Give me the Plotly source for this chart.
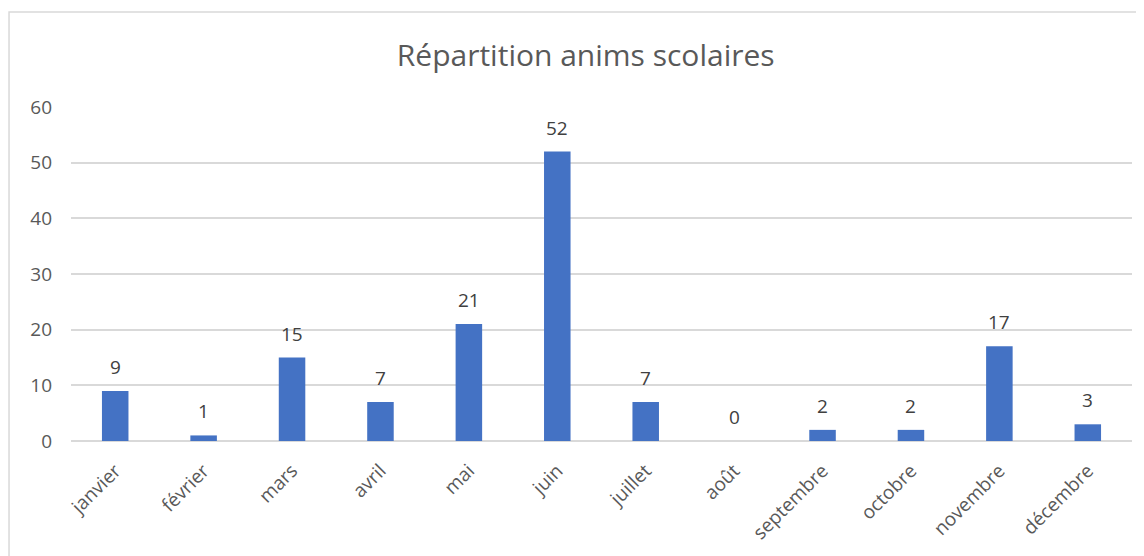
import plotly.graph_objects as go

mois = ["janvier", "février", "mars", "avril", "mai", "juin",
        "juillet", "août", "septembre", "octobre", "novembre", "décembre"]
anims = [9, 1, 15, 7, 21, 52, 7, 0, 2, 2, 17, 3]
y_ticks = [0, 10, 20, 30, 40, 50, 60]

bar_color = "#4472C4"
grey_txt = "#595959"

fig = go.Figure(go.Bar(
    x=mois, y=anims,
    marker=dict(color=bar_color, line=dict(width=0)),
))

# data labels above each bar
for m, v in zip(mois, anims):
    fig.add_annotation(x=m, y=v, text=str(v), showarrow=False,
                       yanchor="bottom", yshift=9,
                       font=dict(size=19, color="#404040"))

# page body has an 8px margin, so margins are shifted to compensate
fig.update_layout(
    width=1144, height=556,
    margin=dict(l=63, r=20, t=99, b=123),
    paper_bgcolor="white", plot_bgcolor="white",
    font=dict(family="Open Sans", color=grey_txt),
    title=dict(text="Répartition anims scolaires", x=0.505, xanchor="center",
               y=0.915, yanchor="middle",
               font=dict(size=30, color=grey_txt)),
    bargap=0.7,
    showlegend=False,
)
fig.update_xaxes(tickangle=-45, tickfont=dict(size=19, color=grey_txt),
                 showgrid=False, showline=False, ticks="", ticklabelstandoff=14)
fig.update_yaxes(range=[0, 60], tickvals=y_ticks, tickfont=dict(size=19, color=grey_txt),
                 gridcolor="#D9D9D9", gridwidth=1.5, zeroline=True, zerolinecolor="#D9D9D9",
                 zerolinewidth=1.5, ticks="", ticklabelstandoff=18)

# chart frame
fig.add_shape(type="rect", xref="paper", yref="paper",
              x0=-0.0584, x1=1.2, y0=-0.6, y1=1.2844,
              line=dict(color="#D9D9D9", width=1.5), layer="below")

fig.write_html("out.html")
